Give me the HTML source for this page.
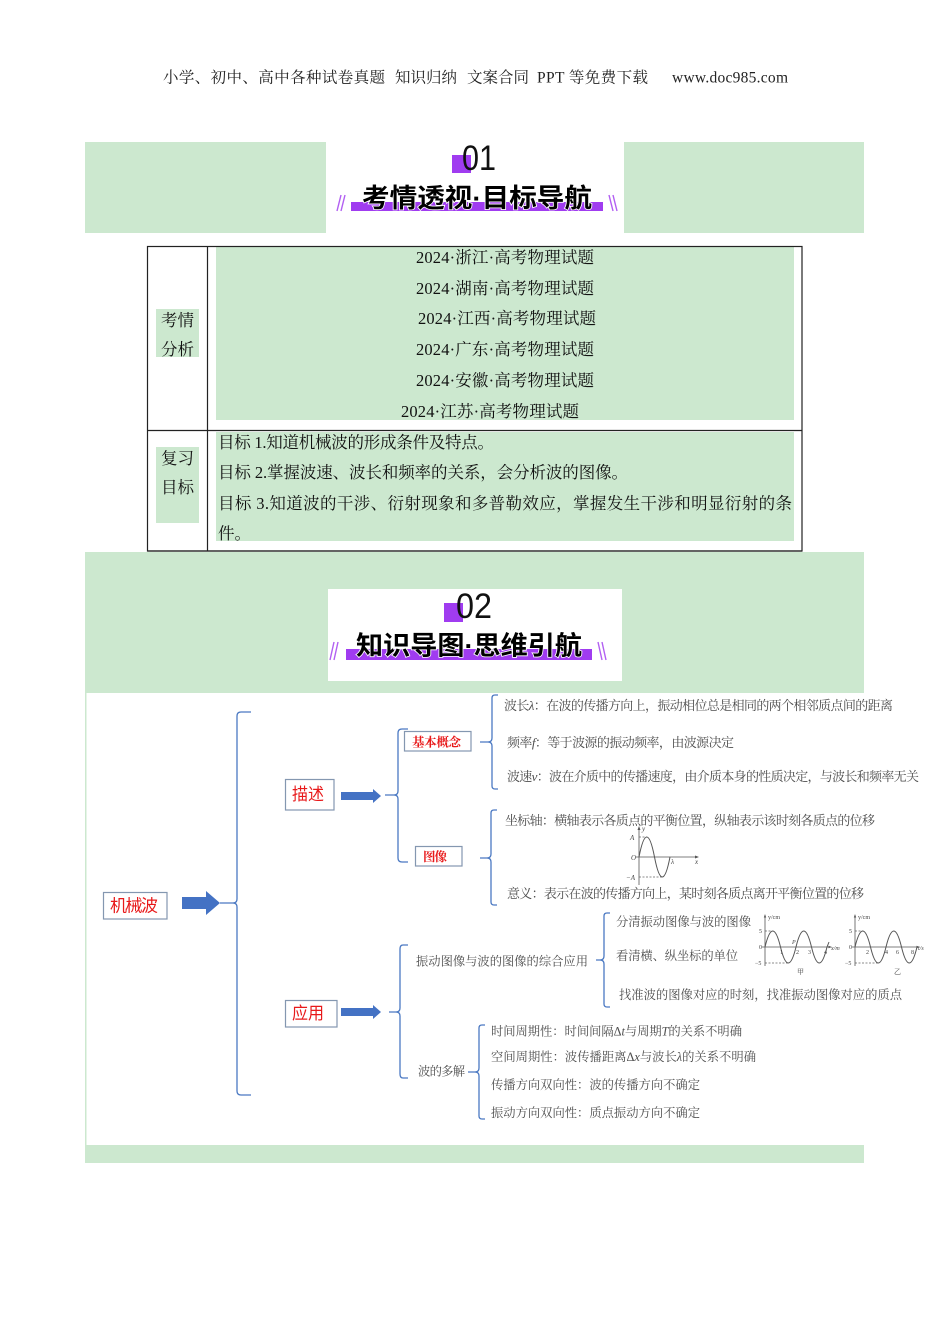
<!DOCTYPE html>
<html><head><meta charset="utf-8">
<style>
html,body{margin:0;padding:0;background:#fff;}
svg{display:block;}
.hd{font-family:"Liberation Serif","Noto Serif CJK SC",serif;font-size:15.5px;fill:#222;}
.tb{font-family:"Liberation Serif","Noto Serif CJK SC",serif;font-size:16.5px;fill:#111;}
.ttl{font-family:"Liberation Sans","Noto Sans CJK SC",sans-serif;font-size:26px;font-weight:bold;fill:#000;stroke:#fff;stroke-width:1.6px;paint-order:stroke;}
.num{font-family:"Liberation Sans","Noto Sans CJK SC",sans-serif;font-size:35px;fill:#111;}
.red{font-family:"Liberation Sans","Noto Sans CJK SC",sans-serif;font-size:17px;fill:#e8191a;}
.redb{font-family:"Liberation Serif","Noto Serif CJK SC",serif;font-size:12.5px;font-weight:bold;fill:#e8191a;}
.g1{font-family:"Liberation Serif","Noto Serif CJK SC",serif;font-size:13px;fill:#4d4d4d;}
.g2{font-family:"Liberation Serif","Noto Serif CJK SC",serif;font-size:12.3px;fill:#4d4d4d;}
.sm{font-family:"Liberation Serif","Noto Serif CJK SC",serif;font-size:7px;fill:#444;}
.br{fill:none;stroke:#4a78c2;stroke-width:1.3;}
.bx{fill:#fff;stroke:#8497b0;stroke-width:1.2;}
.ax{stroke:#555;stroke-width:0.8;fill:none;}
.dash{stroke:#666;stroke-width:0.7;stroke-dasharray:2 1.5;fill:none;}
.wv{stroke:#555;stroke-width:1;fill:none;}
</style></head>
<body>
<svg width="950" height="1344" viewBox="0 0 950 1344" xmlns="http://www.w3.org/2000/svg">
<!-- header -->
<text class="hd" x="163" y="82.6" textLength="222" lengthAdjust="spacing">小学、初中、高中各种试卷真题</text>
<text class="hd" x="395" y="82.6" textLength="62" lengthAdjust="spacing">知识归纳</text>
<text class="hd" x="467" y="82.6" textLength="62" lengthAdjust="spacing">文案合同</text>
<text class="hd" x="537" y="82.6" textLength="111" lengthAdjust="spacing">PPT 等免费下载</text>
<text class="hd" x="672" y="82.6" textLength="116" lengthAdjust="spacing">www.doc985.com</text>

<!-- banner 01 -->
<rect x="85" y="142" width="779" height="91" fill="#cce8cf"/>
<rect x="326" y="142" width="298" height="91" fill="#fff"/>
<rect x="452" y="155" width="19" height="18" fill="#a03cf0"/>
<text class="num" x="462" y="170" textLength="34" lengthAdjust="spacingAndGlyphs">01</text>
<rect x="351" y="202" width="252" height="9" fill="#a03cf0"/>
<text class="ttl" x="362" y="207" textLength="230" lengthAdjust="spacingAndGlyphs">考情透视·目标导航</text>
<g stroke="#b260f2" stroke-width="1.4">
<line x1="337" y1="211" x2="341" y2="195"/><line x1="341" y1="211" x2="345" y2="195"/>
<line x1="609" y1="195" x2="613" y2="211"/><line x1="613" y1="195" x2="617" y2="211"/>
</g>

<!-- table -->
<rect x="216" y="247" width="578" height="173" fill="#cce8cf"/>
<rect x="216" y="432" width="578" height="109" fill="#cce8cf"/>
<rect x="156" y="309" width="43" height="48" fill="#cce8cf"/>
<rect x="156" y="447" width="43" height="76" fill="#cce8cf"/>
<g fill="none" stroke="#222" stroke-width="1.2">
<rect x="147.5" y="246.5" width="654.5" height="304.5"/>
<line x1="207.5" y1="246.5" x2="207.5" y2="551"/>
<line x1="147.5" y1="430.5" x2="802" y2="430.5"/>
</g>
<text class="tb" x="416" y="263" textLength="178" lengthAdjust="spacing">2024·浙江·高考物理试题</text>
<text class="tb" x="416" y="294" textLength="178" lengthAdjust="spacing">2024·湖南·高考物理试题</text>
<text class="tb" x="418" y="324" textLength="178" lengthAdjust="spacing">2024·江西·高考物理试题</text>
<text class="tb" x="416" y="355" textLength="178" lengthAdjust="spacing">2024·广东·高考物理试题</text>
<text class="tb" x="416" y="386" textLength="178" lengthAdjust="spacing">2024·安徽·高考物理试题</text>
<text class="tb" x="401" y="417" textLength="178" lengthAdjust="spacing">2024·江苏·高考物理试题</text>
<text class="tb" x="218" y="448" textLength="276" lengthAdjust="spacing">目标 1.知道机械波的形成条件及特点。</text>
<text class="tb" x="218" y="478" textLength="410" lengthAdjust="spacing">目标 2.掌握波速、波长和频率的关系，会分析波的图像。</text>
<text class="tb" x="218" y="509" textLength="574" lengthAdjust="spacing">目标 3.知道波的干涉、衍射现象和多普勒效应，掌握发生干涉和明显衍射的条</text>
<text class="tb" x="218" y="539">件。</text>
<text class="tb" x="177.5" y="326" text-anchor="middle">考情</text>
<text class="tb" x="177.5" y="355" text-anchor="middle">分析</text>
<text class="tb" x="177.5" y="464" text-anchor="middle">复习</text>
<text class="tb" x="177.5" y="493" text-anchor="middle">目标</text>

<!-- banner 02 -->
<rect x="85" y="552" width="779" height="141" fill="#cce8cf"/>
<line x1="147.5" y1="551" x2="802" y2="551" stroke="#222" stroke-width="1.2"/>
<rect x="328" y="589" width="294" height="92" fill="#fff"/>
<rect x="444" y="603" width="19" height="19" fill="#a03cf0"/>
<text class="num" x="456" y="618" textLength="36" lengthAdjust="spacingAndGlyphs">02</text>
<rect x="346" y="649" width="246" height="11" fill="#a03cf0"/>
<text class="ttl" x="356" y="654.5" textLength="226" lengthAdjust="spacingAndGlyphs">知识导图·思维引航</text>
<g stroke="#b260f2" stroke-width="1.4">
<line x1="330" y1="660" x2="334" y2="642"/><line x1="334" y1="660" x2="338" y2="642"/>
<line x1="598" y1="642" x2="602" y2="660"/><line x1="602" y1="642" x2="606" y2="660"/>
</g>

<!-- mind map area -->
<rect x="85" y="693" width="1.5" height="452" fill="#cce8cf"/>
<rect x="85" y="1145" width="779" height="18" fill="#cce8cf"/>

<!-- boxes -->
<rect class="bx" x="103.5" y="892.5" width="63.5" height="26.5"/>
<text class="red" x="110" y="911.5" textLength="48" lengthAdjust="spacing">机械波</text>
<rect class="bx" x="285.5" y="779.5" width="48.5" height="30.5"/>
<text class="red" x="292" y="800" textLength="32" lengthAdjust="spacingAndGlyphs">描述</text>
<rect class="bx" x="285.5" y="1000.5" width="51.5" height="26.5"/>
<text class="red" x="292" y="1019" textLength="32" lengthAdjust="spacingAndGlyphs">应用</text>
<rect class="bx" x="404.5" y="731.5" width="66.5" height="19.5"/>
<text class="redb" x="412" y="746.5" textLength="49" lengthAdjust="spacing">基本概念</text>
<rect class="bx" x="415.5" y="846.5" width="46.5" height="19.5"/>
<text class="redb" x="423" y="860.8" textLength="24" lengthAdjust="spacing">图像</text>

<!-- arrows -->
<g fill="#4472c4">
<polygon points="182,897 206,897 206,891 220,903 206,915 206,909 182,909"/>
<polygon points="341,792 373,792 373,789 381,796 373,803 373,800 341,800"/>
<polygon points="341,1008 373,1008 373,1005 381,1012 373,1019 373,1016 341,1016"/>
</g>

<!-- braces -->
<path class="br" d="M251,712 L241,712 Q237,712 237,716 L237,899 Q237,903 233,903 L220,903 M233,903 Q237,903 237,907 L237,1091 Q237,1095 241,1095 L251,1095"/>
<path class="br" d="M408,729 L402,729 Q398,729 398,733 L398,791 Q398,795 394,795 L385,795 M394,795 Q398,795 398,799 L398,858 Q398,862 402,862 L408,862"/>
<path class="br" d="M498,695 L495,695 Q492,695 492,698 L492,738 Q492,742 488,742 L480,742 M488,742 Q492,742 492,746 L492,786 Q492,789 495,789 L498,789"/>
<path class="br" d="M497,810 L494,810 Q491,810 491,813 L491,854 Q491,858 487,858 L480,858 M487,858 Q491,858 491,862 L491,902 Q491,905 494,905 L497,905"/>
<path class="br" d="M408,945 L403,945 Q400,945 400,949 L400,1008 Q400,1012 396,1012 L389,1012 M396,1012 Q400,1012 400,1016 L400,1074 Q400,1078 403,1078 L408,1078"/>
<path class="br" d="M485,1025 L482,1025 Q479,1025 479,1028 L479,1068 Q479,1072 475,1072 L468,1072 M475,1072 Q479,1072 479,1076 L479,1116 Q479,1119 482,1119 L485,1119"/>
<path class="br" d="M610,913 L607,913 Q604,913 604,916 L604,956 Q604,960 600,960 L596,960 M600,960 Q604,960 604,964 L604,1004 Q604,1007 607,1007 L610,1007"/>

<!-- gray texts -->
<text class="g1" x="504" y="710" textLength="389" lengthAdjust="spacing">波长<tspan font-style="italic">λ</tspan>：在波的传播方向上，振动相位总是相同的两个相邻质点间的距离</text>
<text class="g1" x="507" y="747" textLength="227" lengthAdjust="spacing">频率<tspan font-style="italic">f</tspan>：等于波源的振动频率，由波源决定</text>
<text class="g1" x="507" y="781" textLength="412" lengthAdjust="spacing">波速<tspan font-style="italic">v</tspan>：波在介质中的传播速度，由介质本身的性质决定，与波长和频率无关</text>
<text class="g1" x="505" y="825" textLength="370" lengthAdjust="spacing">坐标轴：横轴表示各质点的平衡位置，纵轴表示该时刻各质点的位移</text>
<text class="g1" x="507" y="898" textLength="357" lengthAdjust="spacing">意义：表示在波的传播方向上，某时刻各质点离开平衡位置的位移</text>
<text class="g2" x="416" y="965.5" textLength="172" lengthAdjust="spacing">振动图像与波的图像的综合应用</text>
<text class="g2" x="616" y="926" textLength="135" lengthAdjust="spacing">分清振动图像与波的图像</text>
<text class="g2" x="616" y="960" textLength="122" lengthAdjust="spacing">看清横、纵坐标的单位</text>
<text class="g2" x="619" y="999" textLength="283" lengthAdjust="spacing">找准波的图像对应的时刻，找准振动图像对应的质点</text>
<text class="g2" x="418" y="1075.5" textLength="47" lengthAdjust="spacing">波的多解</text>
<text class="g2" x="491" y="1035.5" textLength="251" lengthAdjust="spacing">时间周期性：时间间隔Δ<tspan font-style="italic">t</tspan>与周期<tspan font-style="italic">T</tspan>的关系不明确</text>
<text class="g2" x="491" y="1061" textLength="265" lengthAdjust="spacing">空间周期性：波传播距离Δ<tspan font-style="italic">x</tspan>与波长<tspan font-style="italic">λ</tspan>的关系不明确</text>
<text class="g2" x="491" y="1089" textLength="209" lengthAdjust="spacing">传播方向双向性：波的传播方向不确定</text>
<text class="g2" x="491" y="1117" textLength="209" lengthAdjust="spacing">振动方向双向性：质点振动方向不确定</text>

<!-- graph 1 -->
<line class="ax" x1="639" y1="885" x2="639" y2="828"/>
<polygon points="639,826 637.5,830 640.5,830" fill="#555"/>
<line class="ax" x1="636" y1="857" x2="697" y2="857"/>
<polygon points="699,857 695,855.5 695,858.5" fill="#555"/>
<line class="dash" x1="639" y1="837" x2="647" y2="837"/>
<line class="dash" x1="639" y1="877" x2="662" y2="877"/>
<path class="wv" d="M639,857 Q646.75,817 654.5,857 T670,857"/>
<text class="sm" x="642" y="831" font-style="italic">y</text>
<text class="sm" x="630" y="840" font-style="italic">A</text>
<text class="sm" x="631" y="860" font-style="italic">O</text>
<text class="sm" x="626" y="880" font-style="italic">−A</text>
<text class="sm" x="671" y="864" font-style="italic">λ</text>
<text class="sm" x="695" y="864" font-style="italic">x</text>

<!-- graph 甲 -->
<line class="ax" x1="765" y1="966" x2="765" y2="916"/>
<polygon points="765,914 763.8,917.5 766.2,917.5" fill="#555"/>
<line class="ax" x1="762" y1="947" x2="830" y2="947"/>
<polygon points="832,947 828.5,945.8 828.5,948.2" fill="#555"/>
<line class="dash" x1="765" y1="931" x2="772" y2="931"/>
<line class="dash" x1="765" y1="963" x2="788" y2="963"/>
<path class="wv" d="M765,947 Q772.75,915 780.5,947 T796,947 T811.5,947 T827,947 L829,942"/>
<g class="sm" style="font-size:6px">
<text x="768" y="919">y/cm</text>
<text x="759" y="933">5</text>
<text x="759" y="949">0</text>
<text x="755" y="965">−5</text>
<text x="780" y="954">1</text>
<text x="796" y="954">2</text>
<text x="808" y="954">3</text>
<text x="824" y="954">4</text>
<text x="831" y="950" font-style="italic">x/m</text>
<text x="792" y="944" font-style="italic">P</text>
<text x="797" y="974" style="font-size:7px">甲</text>
</g>

<!-- graph 乙 -->
<line class="ax" x1="855" y1="966" x2="855" y2="916"/>
<polygon points="855,914 853.8,917.5 856.2,917.5" fill="#555"/>
<line class="ax" x1="852" y1="947" x2="918" y2="947"/>
<polygon points="920,947 916.5,945.8 916.5,948.2" fill="#555"/>
<line class="dash" x1="855" y1="931" x2="863" y2="931"/>
<line class="dash" x1="855" y1="963" x2="878" y2="963"/>
<path class="wv" d="M855,947 Q862.75,915 870.5,947 T886,947 T901.5,947 T917,947"/>
<g class="sm" style="font-size:6px">
<text x="858" y="919">y/cm</text>
<text x="849" y="933">5</text>
<text x="849" y="949">0</text>
<text x="845" y="965">−5</text>
<text x="866" y="954">2</text>
<text x="885" y="954">4</text>
<text x="896" y="954">6</text>
<text x="911" y="954">8</text>
<text x="918" y="950" font-style="italic">t/s</text>
<text x="894" y="974" style="font-size:7px">乙</text>
</g>
</svg>
</body></html>
